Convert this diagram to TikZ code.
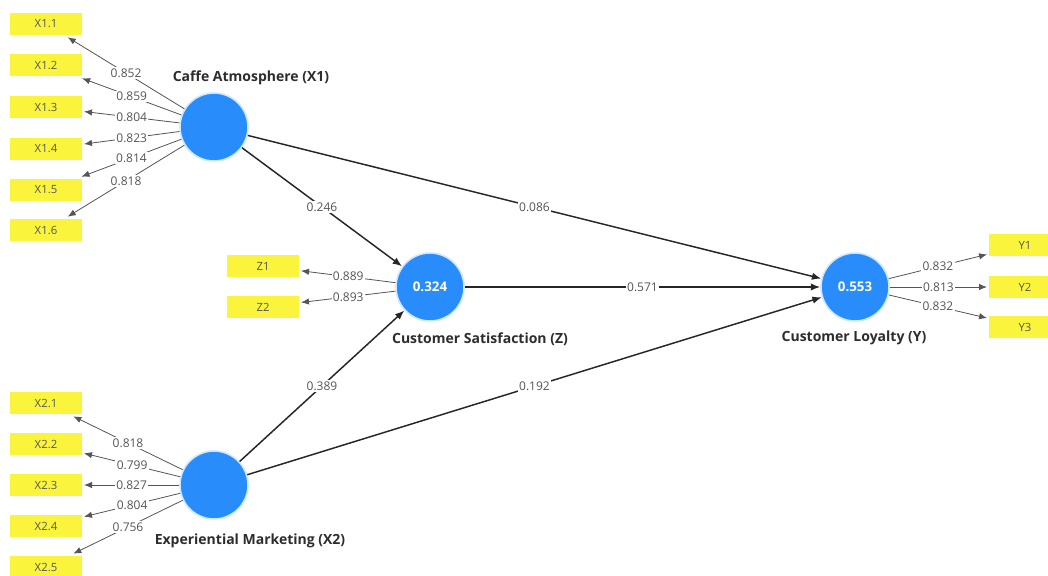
\documentclass[tikz,border=0pt]{standalone}
\usepackage{fontspec}
\setmainfont{Open Sans}
\usetikzlibrary{arrows.meta}
\definecolor{lvblue}{RGB}{40,140,250}
\definecolor{lvhalo}{RGB}{205,232,255}
\definecolor{indyellow}{RGB}{250,245,60}
\definecolor{wtgray}{RGB}{85,85,85}
\definecolor{titlegray}{RGB}{45,45,45}

\begin{document}
\begin{tikzpicture}[x=0.75pt,y=-0.75pt,
  latent/.style={circle,fill=lvblue,draw=lvhalo,line width=1.2pt,minimum size=51pt,
    inner sep=0pt,text=white,font=\fontsize{10}{12}\selectfont\bfseries},
  manifest/.style={fill=indyellow,minimum width=54pt,minimum height=17pt,inner sep=0pt,
    outer sep=1.5pt,text=wtgray,font=\fontsize{8.5}{10}\selectfont},
  lvtitle/.style={text=titlegray,font=\fontsize{10.5}{12}\selectfont\bfseries},
  loading/.style={draw=wtgray,line width=0.6pt,-{Latex[length=6pt,width=4.8pt]}},
  structural/.style={draw=black!85,line width=1.1pt,-{Latex[length=7pt,width=5.5pt]}},
  weight/.style={fill=white,inner sep=1pt,text=wtgray,font=\fontsize{9}{10}\selectfont}]

  % canvas
  \fill[white] (0,0) rectangle (1048,575);
  \useasboundingbox (0,0) rectangle (1048,575);

  % latent variables
  \node[latent] (cafe) at (214,127) {};
  \node[latent] (sat)  at (430,287) {0.324};
  \node[latent] (loy)  at (855,287) {0.553};
  \node[latent] (exp)  at (214,485) {};

  \node[lvtitle] (tcafe) at (251,78)  {Caffe Atmosphere (X1)};
  \node[lvtitle] (tsat)  at (480,339) {Customer Satisfaction (Z)};
  \node[lvtitle] (tloy)  at (854,338) {Customer Loyalty (Y)};
  \node[lvtitle] (texp)  at (250,541) {Experiential Marketing (X2)};

  % Caffe Atmosphere indicators
  \foreach \n/\yy/\w in {1/24/0.852,2/65/0.859,3/107/0.804,4/149/0.823,5/190/0.814,6/230/0.818}{
    \node[manifest] (xa\n) at (46,\yy) {X1.\n};
    \draw[loading] (cafe) -- node[weight,pos=0.5]{\w} (xa\n);
  }

  % Experiential Marketing indicators
  \foreach \n/\yy/\w in {1/403/0.818,2/444/0.799,3/485/0.827,4/526/0.804,5/567/0.756}{
    \node[manifest] (xb\n) at (46,\yy) {X2.\n};
    \draw[loading] (exp) -- node[weight,pos=0.5]{\w} (xb\n);
  }

  % Customer Satisfaction indicators
  \foreach \n/\yy/\w in {1/266/0.889,2/307/0.893}{
    \node[manifest] (z\n) at (263,\yy) {Z\n};
    \draw[loading] (sat) -- node[weight,pos=0.5]{\w} (z\n);
  }

  % Customer Loyalty indicators
  \foreach \n/\yy/\w in {1/245/0.832,2/287/0.813,3/327/0.832}{
    \node[manifest] (y\n) at (1025,\yy) {Y\n};
    \draw[loading] (loy) -- node[weight,pos=0.5]{\w} (y\n);
  }

  % structural paths
  \draw[structural] (cafe) -- node[weight,pos=0.5]{0.246} (sat);
  \draw[structural] (cafe) -- node[weight,pos=0.5]{0.086} (loy);
  \draw[structural] (sat)  -- node[weight,pos=0.5]{0.571} (loy);
  \draw[structural] (exp)  -- node[weight,pos=0.5]{0.389} (sat);
  \draw[structural] (exp)  -- node[weight,pos=0.5]{0.192} (loy);
\end{tikzpicture}
\end{document}
